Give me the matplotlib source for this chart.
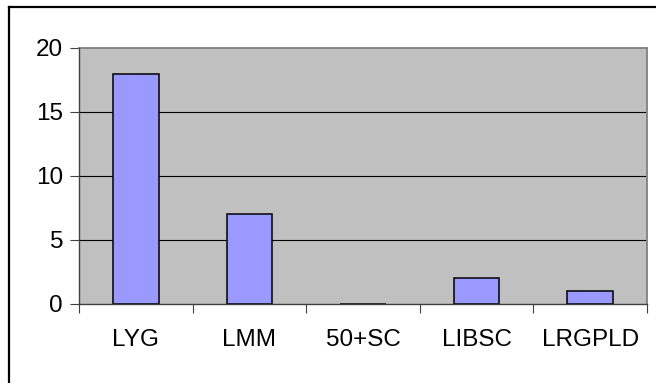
import matplotlib
matplotlib.use("Agg")
import matplotlib.pyplot as plt
from matplotlib.lines import Line2D
import numpy as np

categories = ["LYG", "LMM", "50+SC", "LIBSC", "LRGPLD"]
values = [18, 7, 0, 2, 1]
y_ticks = [0, 5, 10, 15, 20]

plt.rcParams["font.family"] = ["Liberation Sans", "DejaVu Sans"]

W, H = 656, 383
fig = plt.figure(figsize=(W / 100, H / 100), dpi=100)
fig.patch.set_facecolor("white")

# chart frame (top and left edges are visible within the canvas)
fig.add_artist(Line2D([9 / W, 9 / W], [0, 1 - 7 / H], transform=fig.transFigure,
                      color="black", lw=1.6))
fig.add_artist(Line2D([9 / W, 1], [1 - 7 / H, 1 - 7 / H], transform=fig.transFigure,
                      color="black", lw=1.6))

left, right, top, bottom = 79, 647, 48, 304
ax = fig.add_axes([left / W, 1 - bottom / H, (right - left) / W, (bottom - top) / H])
ax.set_facecolor("#C0C0C0")

x = np.arange(len(categories))
ax.bar(x, values, width=0.4, color="#9999FF", edgecolor="black", linewidth=1.1, zorder=3)

ax.set_xlim(-0.5, len(categories) - 0.5)
ax.set_ylim(0, 20)
ax.set_yticks(y_ticks)
ax.set_yticklabels([str(v) for v in y_ticks], fontsize=17.5)
for v in y_ticks[1:-1]:
    ax.axhline(v, color="black", lw=0.8, zorder=1)

ax.set_xticks(x)
ax.set_xticklabels(categories, fontsize=17.5)
ax.tick_params(axis="x", which="major", length=0, pad=18)
ax.set_xticks(np.arange(-0.5, len(categories)), minor=True)
ax.tick_params(axis="x", which="minor", length=6.5, width=0.8, color="#404040")
ax.tick_params(axis="y", length=6.5, width=0.8, color="#404040", pad=5)

for s in ["top", "right"]:
    ax.spines[s].set_color("#808080")
    ax.spines[s].set_linewidth(1.3)
for s in ["left", "bottom"]:
    ax.spines[s].set_color("#404040")
    ax.spines[s].set_linewidth(1.0)
    ax.spines[s].set_zorder(4)

fig.savefig("out.png", dpi=100, facecolor="white")
